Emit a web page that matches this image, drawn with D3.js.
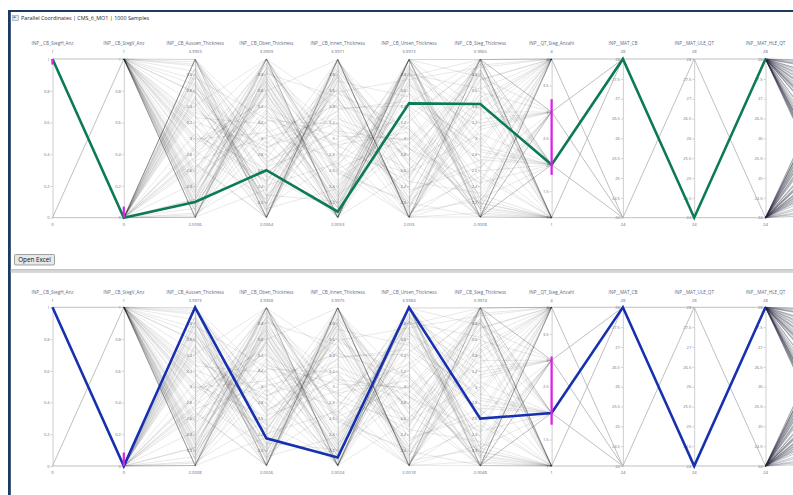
<!DOCTYPE html>
<html>
<head>
<meta charset="utf-8">
<script src="https://cdn.jsdelivr.net/npm/d3@7"></script>
<style>
  body { margin: 0; background: #fff; }
  svg { display: block; font-family: "Open Sans", "Noto Sans", sans-serif; }
</style>
</head>
<body>
<svg id="chart" width="793" height="495"></svg>
<script>
// ---- dimensions ----
const dimNames = [
  "INP__CB_StegH_Anz", "INP__CB_StegV_Anz", "INP__CB_Aussen_Thickness",
  "INP__CB_Oben_Thickness", "INP__CB_Innen_Thickness", "INP__CB_Unten_Thickness",
  "INP__CB_Steg_Thickness", "INP__QT_Steg_Anzahl", "INP__MAT_CB",
  "INP__MAT_ULE_QT", "INP__MAT_HLE_QT", "INP__MAT_Steg_QT"
];
const tickCounts = [5, 5, 10, 10, 10, 10, 10, 6, 8, 8, 8, 5];

// axis extents per panel [min, max]
const domainsTop = [[0,1],[0,1],[2.0036,3.9959],[2.0064,3.9909],[2.0053,3.9971],[2.003,3.9972],[2.0008,3.9965],[1,4],[24,28],[24,28],[24,28],[0,1]];
const domainsBottom = [[0,1],[0,1],[2.0038,3.9973],[2.0026,3.9968],[2.0024,3.9975],[2.0018,3.9984],[2.0048,3.9974],[1,4],[24,28],[24,28],[24,28],[0,1]];

// ---- sample rows (one array per dimension) ----
const stegH = [1,0,1,1,0,1,0,0,1,1,0,1,0,1,1,0, 0,1,1,0,1,0,0,1,1,0,1,0,1,1,0,0, 1,1,0,1,0,0,1,0,1,1,0,0,1,0,1,1, 0,1,0,1,1,0,1,0,0,1,1,0,1,0,0,1, 1,0,0,1,0,1,1,0,1,0,1,1,0,0,1,0, 0,1,1,0,1,1,0,1,0,0,1,0,1,1,0,1];
const stegV = [0,1,1,0,1,0,1,0,0,1,1,0,1,0,1,1, 1,0,0,1,1,0,1,1,0,0,1,1,0,1,0,1, 0,1,1,0,0,1,0,1,1,0,1,0,0,1,1,0, 1,0,1,1,0,1,0,0,1,1,0,1,1,0,1,0, 0,1,0,0,1,1,0,1,0,1,1,0,1,1,0,1, 1,0,1,1,0,0,1,0,1,1,0,1,0,0,1,0];
const aussen = [3.99,2.41,3.12,2.06,3.67,2.88,3.93,2.23,3.45,2.01,2.96,3.78,2.57,3.99,3.21,2.14, 2.11,3.53,2.72,3.99,2.35,3.06,2.01,3.84,2.63,3.37,3.91,2.19,2.91,2.01,3.59,2.48, 3.82,2.01,3.15,2.77,3.99,2.31,3.62,2.27,2.84,3.41,2.09,3.99,2.67,3.26,2.01,3.71, 2.52,3.87,2.18,3.03,3.88,2.27,2.01,3.49,2.81,3.99,2.44,3.17,2.33,3.64,2.99,3.76, 2.01,2.69,3.33,3.99,2.16,3.57,2.04,2.93,3.68,2.38,3.74,2.01,3.09,2.61,3.99,2.22, 3.29,2.86,3.96,2.01,3.51,2.24,3.58,2.75,2.08,3.43,3.99,2.55,2.01,3.81,3.01,2.12];
const oben = [2.01,3.36,3.99,2.58,2.29,3.71,2.93,3.88,2.17,3.22,3.48,2.66,3.99,2.07,2.85,3.59, 3.74,2.22,3.01,3.13,3.99,2.47,3.82,2.01,3.46,2.74,2.12,3.27,3.92,2.36,2.55,3.65, 2.01,3.99,2.53,3.39,2.88,3.57,2.11,3.76,2.24,3.99,3.04,2.43,2.01,3.18,3.55,2.28, 3.99,2.09,3.69,2.62,2.01,3.84,2.97,2.41,3.63,2.34,3.61,2.01,3.99,2.79,3.07,3.24, 3.72,2.01,2.89,2.15,3.99,2.51,3.34,3.42,2.18,3.94,2.19,3.78,2.01,3.86,2.69,3.99, 2.03,3.52,2.64,3.81,2.01,3.31,2.83,3.99,3.57,2.26,2.71,3.12,3.89,2.01,2.46,3.67];
const innen = [3.99,2.01,2.54,3.12,2.21,2.29,3.61,2.87,3.86,3.18,2.01,3.49,2.42,3.73,2.14,3.99, 2.68,3.79,3.25,2.01,2.81,3.57,2.31,3.46,2.13,3.99,2.37,3.03,2.61,3.91,3.36,2.01, 3.99,2.59,2.08,2.92,3.34,2.01,3.83,2.21,3.66,2.01,2.75,3.99,3.72,2.19,2.33,3.15, 2.01,3.99,2.47,3.58,3.77,3.07,2.01,2.69,2.26,3.85,2.39,3.99,2.56,2.01,3.42,2.91, 2.12,3.99,3.19,2.73,2.01,3.69,2.62,2.18,3.99,2.01,3.51,2.64,3.88,2.06,3.29,3.38, 3.99,2.01,2.95,3.52,3.81,2.23,3.77,2.01,2.27,3.99,3.09,2.01,2.83,3.95,3.63,2.16];
const unten = [2.01,3.99,3.21,2.32,3.87,2.95,2.11,3.57,2.66,2.01,3.99,2.49,3.83,2.14,3.74,2.01, 3.38,2.24,2.88,3.99,2.57,3.12,3.91,2.01,3.64,2.43,3.99,2.99,2.17,2.76,3.47,3.81, 2.51,2.01,3.99,3.08,2.26,3.69,2.05,3.99,2.71,3.26,3.78,2.01,3.52,2.93,3.99,2.38, 3.86,2.01,3.16,3.74,2.09,2.61,3.44,2.01,3.99,2.84,3.31,2.67,2.21,3.99,3.11,2.46, 3.99,2.01,2.79,3.92,3.81,2.13,3.02,3.56,2.01,2.58,2.19,3.99,2.87,3.72,2.22,3.41, 2.01,3.99,3.28,2.07,2.54,3.89,2.01,3.67,3.99,2.35,2.97,3.83,2.01,3.04,2.73,3.99];
const steg = [3.51,2.01,3.99,2.73,3.28,2.12,3.84,2.46,2.01,3.87,2.94,3.99,2.19,3.15,2.62,3.99, 2.01,3.43,2.18,3.77,3.06,2.01,2.57,3.99,2.36,3.71,2.09,3.92,3.24,2.01,2.83,3.62, 3.99,2.27,3.36,2.01,3.81,2.68,3.11,2.23,3.55,2.42,3.99,2.01,2.89,3.79,2.14,3.99, 2.14,3.66,2.01,3.89,2.52,3.33,3.99,2.06,2.77,3.74,2.01,3.48,2.98,3.99,2.29,2.31, 3.99,2.59,3.86,2.01,3.19,3.95,2.17,2.86,3.58,3.99,2.01,3.02,2.44,2.11,3.99,2.71, 3.39,2.01,3.93,2.22,3.73,2.01,3.99,3.13,2.24,2.64,3.82,2.01,3.46,2.04,3.99,2.91];
const qtAnzahl = [4,1,3,2,4,1,2,4,3,1,4,2,1,3,4,1, 2,4,1,3,2,4,1,4,3,2,1,4,3,1,2,4, 1,3,4,2,1,4,3,1,2,4,1,3,4,2,1,4, 3,1,2,4,1,3,4,1,2,4,3,1,4,2,1,3, 4,2,1,4,3,1,4,2,3,1,4,1,2,4,3,1, 1,4,2,3,4,1,1,4,2,3,1,4,4,1,3,2];
const matCB = [28,24,24,28,24,28,28,24,24,28,28,24,28,24,24,28, 24,28,24,28,28,24,28,24,24,28,24,28,28,24,28,24, 28,24,28,24,24,28,24,28,28,24,28,24,24,28,24,28, 24,28,28,24,28,24,24,28,24,28,28,24,24,28,28,24, 28,24,24,28,28,24,28,24,24,28,24,28,24,28,28,24, 24,28,24,28,24,28,28,24,28,24,28,24,28,24,24,28];
const matULE = [24,28,28,24,24,28,24,28,28,24,24,28,24,28,24,28, 28,24,28,24,24,28,28,24,28,24,28,24,24,28,24,28, 24,28,24,28,28,24,28,24,24,28,24,28,28,24,28,24, 28,24,24,28,24,28,28,24,28,24,24,28,28,24,24,28, 24,28,28,24,28,24,24,28,28,24,28,24,24,28,28,24, 28,24,28,24,28,24,24,28,24,28,24,28,28,24,28,24];
const matHLE = [28,28,24,24,28,24,28,28,24,24,28,28,24,24,28,28, 24,24,28,28,24,28,24,24,28,28,24,28,24,28,28,24, 28,24,24,28,28,24,28,28,24,24,28,24,28,28,24,24, 24,28,28,24,24,28,24,28,28,24,28,24,24,28,28,24, 28,24,28,28,24,24,28,24,28,24,24,28,28,24,24,28, 24,28,24,24,28,28,24,28,28,24,28,24,24,28,24,28];
const matStegQT = [0.12,0.87,0.45,0.66,0.03,0.91,0.38,0.57,0.24,0.79,0.15,0.62,0.95,0.31,0.49,0.08, 0.73,0.27,0.84,0.52,0.19,0.69,0.41,0.97,0.06,0.58,0.34,0.81,0.22,0.64,0.47,0.89, 0.29,0.76,0.11,0.55,0.93,0.36,0.68,0.04,0.83,0.43,0.17,0.61,0.99,0.26,0.72,0.51, 0.14,0.86,0.33,0.59,0.07,0.78,0.46,0.92,0.21,0.65,0.39,0.82,0.02,0.54,0.74,0.28, 0.96,0.44,0.18,0.71,0.35,0.88,0.09,0.63,0.48,0.25,0.85,0.56,0.13,0.77,0.32,0.94, 0.05,0.67,0.42,0.9,0.23,0.6,0.37,0.8,0.16,0.53,0.98,0.3,0.7,0.1,0.5,0.75];

// selected design per panel
const selectedTop = [1, 0, 2.2, 2.6, 2.08, 3.44, 3.43, 2, 28, 24, 28];
const selectedBottom = [1, 0, 3.9973, 2.35, 2.11, 3.9984, 2.6, 2, 28, 24, 28];

// active filter ranges: [dimension index, [low, high]]
const filtersTop = [[0, [0.965, 1]], [1, [0, 0.07]], [7, [1.81, 3.24]]];
const filtersBottom = [[1, [0, 0.085]], [7, [1.78, 3.07]]];

const columns = [stegH, stegV, aussen, oben, innen, unten, steg, qtAnzahl, matCB, matULE, matHLE, matStegQT];
const samples = d3.range(stegH.length).map(i => columns.map(c => c[i]));

// ---- layout ----
const W = 793, H = 495;
const svg = d3.select("#chart");
svg.append("rect").attr("width", W).attr("height", H).attr("fill", "#fff");

const x = d3.scalePoint().domain(dimNames).range([52.5, 836.8]);
const fmt = d => String(+d.toFixed(2));

function drawPanel(cfg) {
  const g = svg.append("g");
  const y = cfg.domains.map(d => d3.scaleLinear().domain(d).range([cfg.bottom, cfg.top]).clamp(true));
  const px = (i, v) => [x(dimNames[i]), y[i](v)];

  // axes
  dimNames.forEach((name, i) => {
    const xi = x(name);
    if (xi > W) return;
    const ag = g.append("g").attr("transform", `translate(${xi},0)`);
    ag.call(d3.axisLeft(y[i]).ticks(tickCounts[i]).tickSize(2).tickSizeOuter(0).tickPadding(1).tickFormat(fmt));
    ag.select(".domain").attr("stroke", "#c8c8c8").attr("stroke-width", 0.9);
    ag.selectAll(".tick line").attr("stroke", "#9aa0ad").attr("stroke-width", 0.5);
    ag.selectAll(".tick text").attr("font-size", 4).attr("fill", "#6b7282").attr("font-family", "Open Sans, sans-serif");
    g.append("text").attr("x", xi).attr("y", cfg.top - 13.6).attr("text-anchor", "middle")
      .attr("font-size", 4.6).attr("fill", "#5d6a88").text(name);
    g.append("text").attr("x", xi).attr("y", cfg.top - 5.6).attr("text-anchor", "middle")
      .attr("font-size", 4.3).attr("fill", "#5d6a88").text(String(cfg.domains[i][1]));
    g.append("text").attr("x", xi).attr("y", cfg.bottom + 8.4).attr("text-anchor", "middle")
      .attr("font-size", 4.3).attr("fill", "#5d6a88").text(String(cfg.domains[i][0]));
  });

  // links between two discrete axes: each distinct pair drawn once
  [[0, 1], [7, 8], [8, 9], [9, 10]].forEach(([a, b]) => {
    const pairs = Array.from(new Set(samples.map(s => s[a] + "|" + s[b]))).map(k => k.split("|").map(Number));
    g.append("g").selectAll("line").data(pairs).join("line")
      .attr("x1", x(dimNames[a])).attr("x2", x(dimNames[b]))
      .attr("y1", d => y[a](d[0])).attr("y2", d => y[b](d[1]))
      .attr("stroke", "#b0b0b0").attr("stroke-width", 0.8);
  });

  // sample polylines over the continuous stretch
  const line = d3.line();
  g.append("g").selectAll("path").data(samples).join("path")
    .attr("d", s => line(d3.range(1, 8).map(i => px(i, s[i]))))
    .attr("fill", "none").attr("stroke", "#1c1c1c").attr("stroke-opacity", 0.18).attr("stroke-width", 0.55);

  g.append("g").selectAll("path").data(samples).join("path")
    .attr("d", s => line([px(10, s[10]), px(11, s[11])]))
    .attr("fill", "none").attr("stroke", "#2a2a40").attr("stroke-opacity", 0.42).attr("stroke-width", 0.65);

  // selected design
  g.append("path")
    .attr("d", line(cfg.selected.map((v, i) => px(i, v))))
    .attr("fill", "none").attr("stroke", cfg.color).attr("stroke-width", 2.6)
    .attr("stroke-linejoin", "miter");

  // filter ranges
  g.append("g").selectAll("rect").data(cfg.filters).join("rect")
    .attr("x", d => x(dimNames[d[0]]) - 1.1).attr("width", 2.2)
    .attr("y", d => y[d[0]](d[1][1])).attr("height", d => y[d[0]](d[1][0]) - y[d[0]](d[1][1]))
    .attr("fill", "#e01fe6");
}

drawPanel({ top: 59, bottom: 217.7, domains: domainsTop, selected: selectedTop, color: "#0b7a55", filters: filtersTop });
drawPanel({ top: 307.3, bottom: 466, domains: domainsBottom, selected: selectedBottom, color: "#1630b0", filters: filtersBottom });

// ---- window chrome ----
svg.append("rect").attr("x", 8).attr("y", 10).attr("width", W - 8).attr("height", 2).attr("fill", "#1b3a60");
svg.append("rect").attr("x", 8).attr("y", 10).attr("width", 2.8).attr("height", H - 10).attr("fill", "#1b3a60");
svg.append("rect").attr("x", 12.5).attr("y", 15.5).attr("width", 6).attr("height", 5).attr("fill", "#dfe7f1").attr("stroke", "#7a8aa3").attr("stroke-width", 0.5);
svg.append("rect").attr("x", 13.5).attr("y", 16.5).attr("width", 2).attr("height", 1.5).attr("fill", "#3f70b8");
svg.append("text").attr("x", 21).attr("y", 20).attr("font-size", 5.4).attr("fill", "#222")
  .text("Parallel Coordinates | CMS_6_MO1 | 1000 Samples");

// button
svg.append("rect").attr("x", 14.5).attr("y", 254.5).attr("width", 40).attr("height", 10.5).attr("rx", 1)
  .attr("fill", "#e8e8e8").attr("stroke", "#7d7d7d").attr("stroke-width", 0.7);
svg.append("text").attr("x", 34.5).attr("y", 262).attr("text-anchor", "middle").attr("font-size", 6.3).attr("fill", "#111")
  .text("Open Excel");

// splitter
svg.append("rect").attr("x", 10.8).attr("y", 269.3).attr("width", W - 10.8).attr("height", 3.6).attr("fill", "#d6d6d6");
svg.append("rect").attr("x", 10.8).attr("y", 269.3).attr("width", W - 10.8).attr("height", 0.8).attr("fill", "#b9b9b9");
</script>
</body>
</html>
